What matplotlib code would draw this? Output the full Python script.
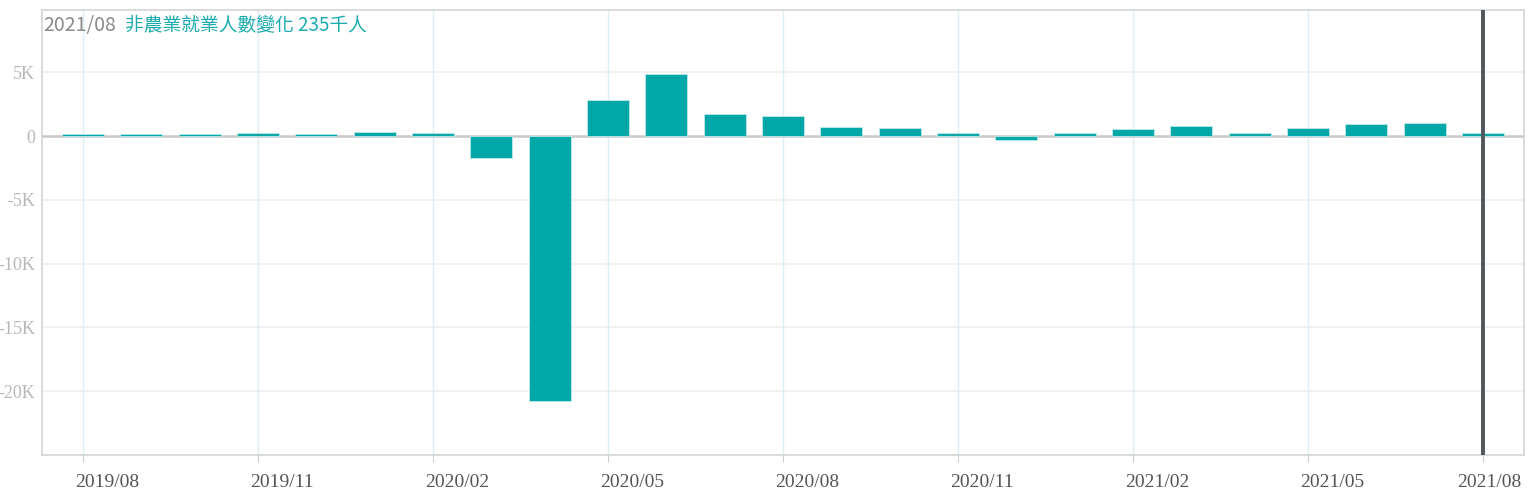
import numpy as np
import matplotlib
matplotlib.use("Agg")
import matplotlib.pyplot as plt
from matplotlib.transforms import ScaledTranslation

months = ["2019/08", "2019/09", "2019/10", "2019/11", "2019/12",
          "2020/01", "2020/02", "2020/03", "2020/04", "2020/05", "2020/06",
          "2020/07", "2020/08", "2020/09", "2020/10", "2020/11", "2020/12",
          "2021/01", "2021/02", "2021/03", "2021/04", "2021/05", "2021/06",
          "2021/07", "2021/08"]
values = [207, 208, 185, 261, 184,
          315, 289, -1683, -20787, 2833, 4846,
          1726, 1583, 716, 680, 264, -306,
          233, 536, 785, 269, 614, 962,
          1053, 235]
ytick_vals = [5000, 0, -5000, -10000, -15000, -20000]
ytick_labels = ["5K", "0", "-5K", "-10K", "-15K", "-20K"]
title_date = "2021/08"
title_text = "非農業就業人數變化 235千人"

bar_color = "#02a7a8"
fig = plt.figure(figsize=(15.38, 4.96), dpi=100)
ax = fig.add_axes([42/1538, 41/496, (1524-42)/1538, (455-10)/496])

x = np.arange(len(months))
ax.bar(x, values, width=0.72, color=bar_color, edgecolor="#bfe9ea", linewidth=0.6, zorder=3)

ax.set_xlim(-0.7, len(months) - 1 + 0.7)
ax.set_ylim(-25000, 9900)

# grid
ax.set_yticks(ytick_vals)
ax.set_yticklabels(ytick_labels)
for yv in ytick_vals:
    if yv != 0:
        ax.axhline(yv, color="#efefef", lw=1.2, zorder=1)
ax.axhline(0, color="#c8c8c8", lw=1.8, zorder=2)

xt = x[::3]
ax.set_xticks(xt)
ax.set_xticklabels([months[i] for i in xt])
for xv in xt:
    ax.axvline(xv, color="#ddeff5", lw=1.0, zorder=1)

ax.axvline(x[-1], color="#50565c", lw=2.8, zorder=5)

for s in ax.spines.values():
    s.set_color("#d4d4d4")
    s.set_linewidth(1.2)

ax.tick_params(axis="y", length=0, pad=5, labelcolor="#b8b8b8", labelsize=13)
ax.tick_params(axis="x", length=5, color="#cccccc", pad=9, labelcolor="#555555", labelsize=14)
for lab in ax.get_yticklabels():
    lab.set_family("Liberation Serif")
xlabels = ax.get_xticklabels()
for i, lab in enumerate(xlabels):
    shift = -26 if i == len(xlabels) - 1 else -8
    lab.set_family("Liberation Serif")
    lab.set_horizontalalignment("left")
    lab.set_transform(lab.get_transform() + ScaledTranslation(shift/100, 0, fig.dpi_scale_trans))

t1 = ax.text(0.001, 0.988, title_date, transform=ax.transAxes, ha="left", va="top",
             fontsize=14, color="#8a8a8a", family=["Noto Sans CJK TC", "DejaVu Sans"])
fig.canvas.draw()
bb = t1.get_window_extent()
inv = ax.transAxes.inverted()
x1 = inv.transform((bb.x1 + 9, bb.y1))[0]
ax.text(x1, 0.988, title_text, transform=ax.transAxes, ha="left", va="top",
        fontsize=13.5, color="#1aacb0", family=["Noto Sans CJK TC", "DejaVu Sans"])

fig.savefig("out.png", dpi=100)
